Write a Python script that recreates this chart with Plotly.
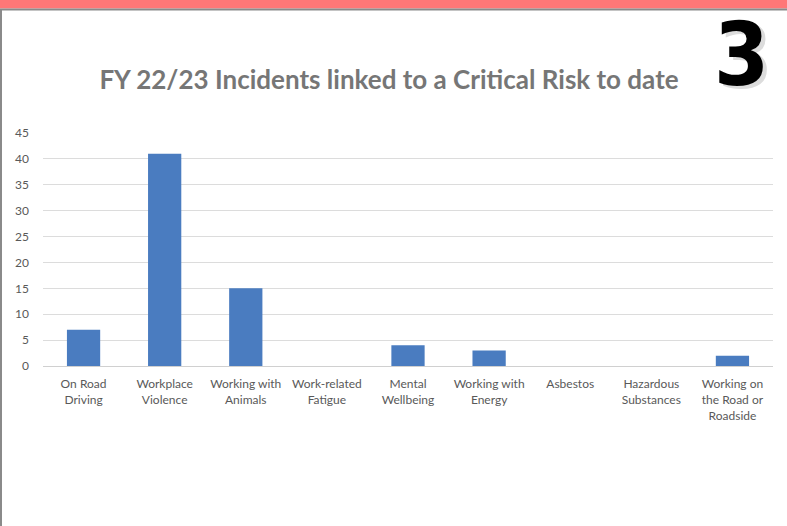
import plotly.graph_objects as go

categories = ["On Road<br>Driving", "Workplace<br>Violence", "Working with<br>Animals",
              "Work-related<br>Fatigue", "Mental<br>Wellbeing", "Working with<br>Energy",
              "Asbestos", "Hazardous<br>Substances", "Working on<br>the Road or<br>Roadside"]
values = [7, 41, 15, 0, 4, 3, 0, 0, 2]
y_ticks = [0, 5, 10, 15, 20, 25, 30, 35, 40, 45]
title_text = "FY 22/23 Incidents linked to a Critical Risk to date"
badge_text = "3"

W, H = 787, 526
L, R, T, B = 43, 773, 133, 366

def xp(px):
    return (px - L) / (R - L)

def yp(py):
    return (B - py) / (B - T)

fig = go.Figure(go.Bar(x=categories, y=values, marker=dict(color="#4A7CC0", line=dict(width=0)),
                       width=0.41))

shapes = [
    dict(type="rect", xref="paper", yref="paper", x0=xp(0), x1=xp(W), y0=yp(8.5), y1=yp(0),
         fillcolor="#FF7777", line=dict(width=0), layer="above"),
    dict(type="rect", xref="paper", yref="paper", x0=xp(0), x1=xp(W), y0=yp(10.5), y1=yp(8.5),
         fillcolor="#8a8a8a", line=dict(width=0), layer="above"),
    dict(type="rect", xref="paper", yref="paper", x0=xp(0), x1=xp(2), y0=yp(H), y1=yp(9),
         fillcolor="#8a8a8a", line=dict(width=0), layer="above"),
]

badge_font = "Liberation Sans Narrow, DejaVu Sans Condensed, Arial Narrow, sans-serif"
annotations = [
    dict(text=badge_text, xref="paper", yref="paper", x=xp(741), y=yp(54), showarrow=False,
         font=dict(family=badge_font, size=88, color="#000000", weight="bold",
                   shadow="4px 3px 0px #dcdcdc"),
         xanchor="center", yanchor="middle"),
]

fig.update_layout(
    width=W, height=H,
    margin=dict(l=L, r=W - R, t=T, b=H - B, pad=0),
    paper_bgcolor="white", plot_bgcolor="white",
    title=dict(text=title_text, x=389 / W, xanchor="center", y=1 - 80 / H, yanchor="middle",
               font=dict(family="Lato, Open Sans, sans-serif", size=26, color="#767676", weight="bold")),
    showlegend=False,
    bargap=0.59,
    shapes=shapes,
    annotations=annotations,
    xaxis=dict(showgrid=False, showline=True, linecolor="#d0d0d0", linewidth=1, ticks="",
               ticklabelstandoff=7,
               tickfont=dict(family="Lato, sans-serif", size=12, color="#595959"), fixedrange=True),
    yaxis=dict(range=[0, 45], tickvals=y_ticks, showgrid=True, gridcolor="#dcdcdc", gridwidth=1,
               zeroline=False, showline=False, ticks="", ticklabelstandoff=13,
               tickfont=dict(family="Lato, sans-serif", size=12, color="#595959")),
)

fig.write_html("out.html")
